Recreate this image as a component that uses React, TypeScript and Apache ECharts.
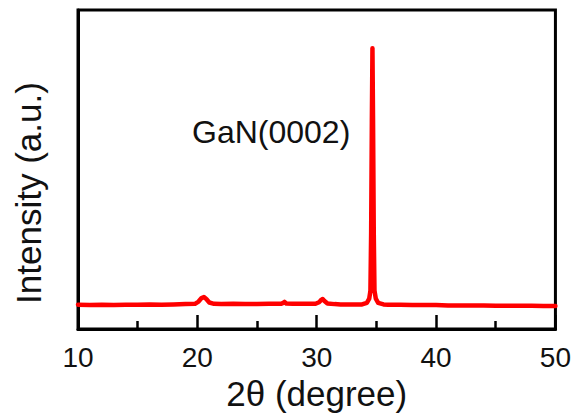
import React, { useEffect, useRef } from "react";
import * as echarts from "echarts";

const twoTheta: number[] = [
  10, 11, 12, 13, 14, 15, 16, 17, 18, 19, 19.8, 20.1, 20.35, 20.55, 20.75, 21.0, 21.4,
  22, 23, 24, 25, 26, 27, 27.2, 27.3, 27.45, 28, 29, 29.9, 30.2, 30.4, 30.5, 30.65, 30.9,
  31.5, 32, 33, 33.8, 34.2, 34.4, 34.5, 34.56, 34.62, 34.67, 34.72, 34.78, 34.84, 34.95,
  35.15, 35.6, 36, 37, 38, 39, 40, 41, 42, 43, 44, 45, 46, 47, 48, 49, 50,
];
const intensity: number[] = [
  7.6, 7.5, 7.6, 7.5, 7.6, 7.6, 7.7, 7.6, 7.7, 7.8, 7.9, 8.6, 9.7, 10.0, 9.4, 8.3, 7.9,
  7.8, 7.9, 7.8, 7.8, 7.9, 7.9, 8.2, 8.5, 8.0, 7.9, 7.9, 7.9, 8.4, 9.2, 9.4, 8.8, 8.0,
  7.8, 7.7, 7.7, 7.7, 8.2, 9.5, 12, 30, 65, 88, 65, 30, 12, 9.5,
  8.2, 7.7, 7.6, 7.6, 7.5, 7.5, 7.5, 7.4, 7.4, 7.4, 7.4, 7.3, 7.3, 7.3, 7.3, 7.2, 7.2,
];
const xTicks: number[] = [10, 20, 30, 40, 50];
const peakLabel = "GaN(0002)";
const xName = "2θ (degree)";
const yName = "Intensity (a.u.)";

export default function App() {
  const ref = useRef<HTMLDivElement>(null);
  useEffect(() => {
    if (!ref.current) return;
    const chart = echarts.init(ref.current, null, { renderer: "svg" });
    const font = "Arial, 'Liberation Sans', Helvetica, sans-serif";
    chart.setOption({
      animation: false,
      backgroundColor: "#ffffff",
      grid: {
        left: 78,
        right: 17,
        top: 10,
        bottom: 88,
        show: true,
        borderColor: "#000",
        borderWidth: 3,
        backgroundColor: "transparent",
      },
      xAxis: {
        type: "value",
        min: xTicks[0],
        max: xTicks[xTicks.length - 1],
        interval: 10,
        name: xName,
        nameLocation: "middle",
        nameGap: 45,
        nameTextStyle: { fontSize: 35, color: "#111", fontFamily: font },
        axisLine: { show: true, lineStyle: { color: "#000", width: 3 } },
        axisTick: { show: true, inside: true, length: 14, lineStyle: { color: "#000", width: 2.5 } },
        minorTick: { show: true, splitNumber: 2, length: 8, lineStyle: { color: "#000", width: 2.5 } },
        axisLabel: { fontSize: 28, color: "#111", fontFamily: font, margin: 14 },
        splitLine: { show: false },
      },
      yAxis: {
        type: "value",
        min: 0,
        max: 100,
        axisLine: { show: true, lineStyle: { color: "#000", width: 3 } },
        axisTick: { show: false },
        axisLabel: { show: false },
        splitLine: { show: false },
      },
      graphic: [
        {
          type: "text",
          x: 28,
          y: 193,
          rotation: Math.PI / 2,
          style: {
            text: yName,
            fontSize: 35,
            fill: "#111",
            fontFamily: font,
            align: "center",
            verticalAlign: "middle",
          },
        },
        {
          type: "text",
          x: 192,
          y: 132,
          style: {
            text: peakLabel,
            fontSize: 32,
            fill: "#111",
            fontFamily: font,
            align: "left",
            verticalAlign: "middle",
          },
        },
      ],
      series: [
        {
          type: "line",
          data: twoTheta.map((x, i) => [x, intensity[i]]),
          showSymbol: false,
          smooth: false,
          lineStyle: { color: "#ff0000", width: 4.5, join: "round", cap: "round" },
          itemStyle: { color: "#ff0000" },
        },
      ],
    });
    return () => chart.dispose();
  }, []);
  return <div ref={ref} style={{ width: 574, height: 417, position: "absolute", left: 0, top: 0 }} />;
}
